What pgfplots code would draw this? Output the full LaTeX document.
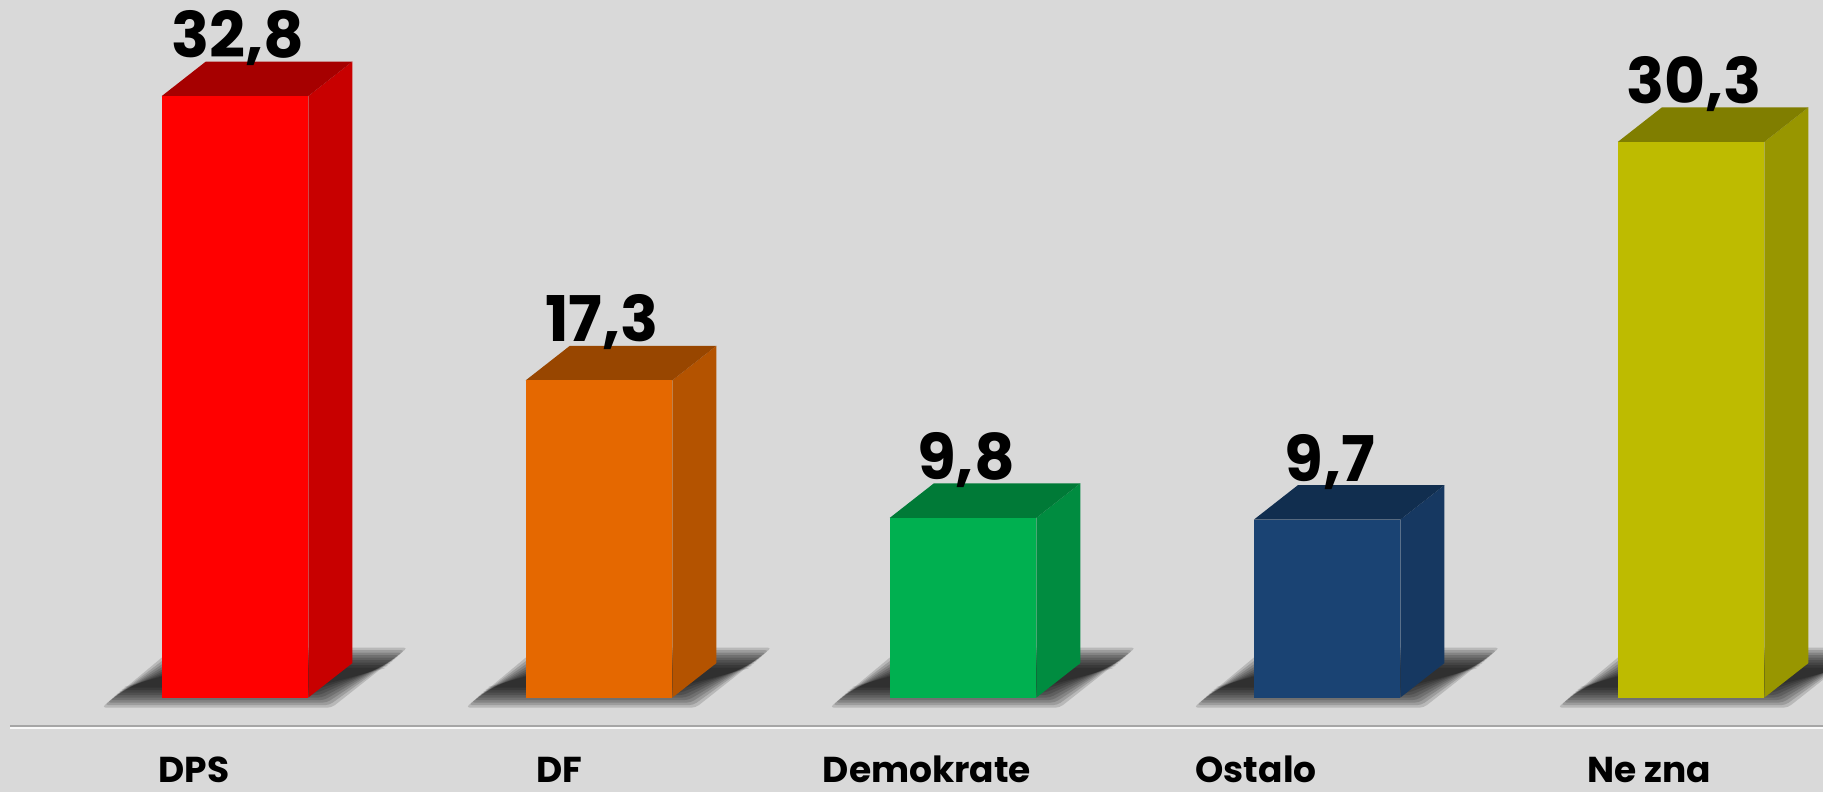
\documentclass[border=0pt]{standalone}
\usepackage{fontspec}
\setmainfont{Poppins}
\usepackage{pgfplots}
\pgfplotsset{compat=1.18}

\definecolor{bg}{HTML}{D9D9D9}
\definecolor{dpsF}{HTML}{FF0000}\definecolor{dpsS}{HTML}{C80000}\definecolor{dpsT}{HTML}{A60000}
\definecolor{dfF}{HTML}{E56800}\definecolor{dfS}{HTML}{B45300}\definecolor{dfT}{HTML}{984600}
\definecolor{demF}{HTML}{00B050}\definecolor{demS}{HTML}{008C40}\definecolor{demT}{HTML}{007A37}
\definecolor{ostF}{HTML}{1A4373}\definecolor{ostS}{HTML}{163861}\definecolor{ostT}{HTML}{112E4F}
\definecolor{nzF}{HTML}{BEBB00}\definecolor{nzS}{HTML}{989600}\definecolor{nzT}{HTML}{807E00}

\newcommand\valfont{\fontsize{31.5}{31.5}\selectfont\bfseries}
\newcommand\catfont{\fontsize{18}{18}\selectfont\bfseries}

% one blurred-shadow layer: #1 = left x of bar front (axis units), #2 = inset (px)
\newcommand\shadowlayer[2]{%
  \pgfmathsetmacro\sa{#1+(-60+#2)/364}%
  \pgfmathsetmacro\sb{#1+(170-#2)/364}%
  \pgfmathsetmacro\sc{#1+(246-#2)/364}%
  \pgfmathsetmacro\sd{#1+(12+#2)/364}%
  \pgfmathsetmacro\ylo{(698-708+#2)/18.34}%
  \pgfmathsetmacro\yhi{(698-648-#2)/18.34}%
  \edef\tmp{\noexpand\addplot[draw=none, fill=black, fill opacity=0.15, forget plot, rounded corners=2pt] coordinates {(\sa,\ylo) (\sb,\ylo) (\sc,\yhi) (\sd,\yhi)} -- cycle;}\tmp
}
\newcommand\barshadow[1]{%
  \pgfmathsetmacro\xl{#1-0.2013}%
  \shadowlayer{\xl}{0}\shadowlayer{\xl}{2.5}\shadowlayer{\xl}{5}\shadowlayer{\xl}{7.5}%
  \shadowlayer{\xl}{10}\shadowlayer{\xl}{12.5}\shadowlayer{\xl}{15}\shadowlayer{\xl}{17.5}\shadowlayer{\xl}{20}%
}
% 3D bar: #1 index, #2 value, #3 front, #4 side, #5 top
\newcommand\tdbar[5]{%
  \pgfmathsetmacro\xL{#1-0.2013}%
  \pgfmathsetmacro\xR{#1+0.2013}%
  \pgfmathsetmacro\xRR{#1+0.2013+0.121}%
  \pgfmathsetmacro\xLL{#1-0.2013+0.121}%
  \pgfmathsetmacro\vv{#2+1.88}%
  \edef\tmp{%
    \noexpand\addplot[draw=none, fill=#4, forget plot] coordinates {(\xR,0) (\xR,#2) (\xRR,\vv) (\xRR,1.88)} -- cycle;
    \noexpand\addplot[draw=none, fill=#5, forget plot] coordinates {(\xL,#2) (\xR,#2) (\xRR,\vv) (\xLL,\vv)} -- cycle;
  }\tmp
  \addplot[ybar, bar width=0.4025, bar shift=0pt, fill=#3, draw=none, forget plot,
    nodes near coords={\pgfmathprintnumber[fixed, precision=1, fixed zerofill, use comma]{\pgfplotspointmeta}},
    every node near coord/.style={anchor=base, yshift=19.3pt, xshift=1.5pt, inner sep=0pt, font=\valfont, text=black}]
    coordinates {(#1,#2)};
}

\begin{document}
\begin{tikzpicture}
\path[use as bounding box] (0,0) rectangle (911.5pt,396pt);
\clip (0,0) rectangle (911.5pt,396pt);
\fill[bg] (0,0) rectangle (911.5pt,396pt);
\begin{axis}[
  at={(0,0)}, anchor=south west,
  width=911.5pt, height=396pt, scale only axis,
  xmin=-0.6456, xmax=4.3626, ymin=-5.147, ymax=38.04,
  axis line style={draw=none}, tick style={draw=none}, major tick length=0pt,
  ytick=\empty,
  xtick={-0.113,0.890,1.901,2.805,3.885},
  xticklabels={DPS,DF,Demokrate,Ostalo,Ne zna},
  xticklabel style={anchor=base, yshift=5pt, inner sep=0pt, font=\catfont, text=black},
  /pgf/number format/assume math mode=true,
  clip=false,
]
\barshadow{0}\barshadow{1}\barshadow{2}\barshadow{3}\barshadow{4}
\addplot[draw=black!35, line width=1pt, forget plot] coordinates {(-0.618,-1.53) (4.3626,-1.53)};
\addplot[draw=white!85!bg, line width=0.6pt, forget plot] coordinates {(-0.618,-1.66) (4.3626,-1.66)};
\tdbar{0}{32.8}{dpsF}{dpsS}{dpsT}
\tdbar{1}{17.3}{dfF}{dfS}{dfT}
\tdbar{2}{9.8}{demF}{demS}{demT}
\tdbar{3}{9.7}{ostF}{ostS}{ostT}
\tdbar{4}{30.3}{nzF}{nzS}{nzT}
\end{axis}
\end{tikzpicture}
\end{document}
